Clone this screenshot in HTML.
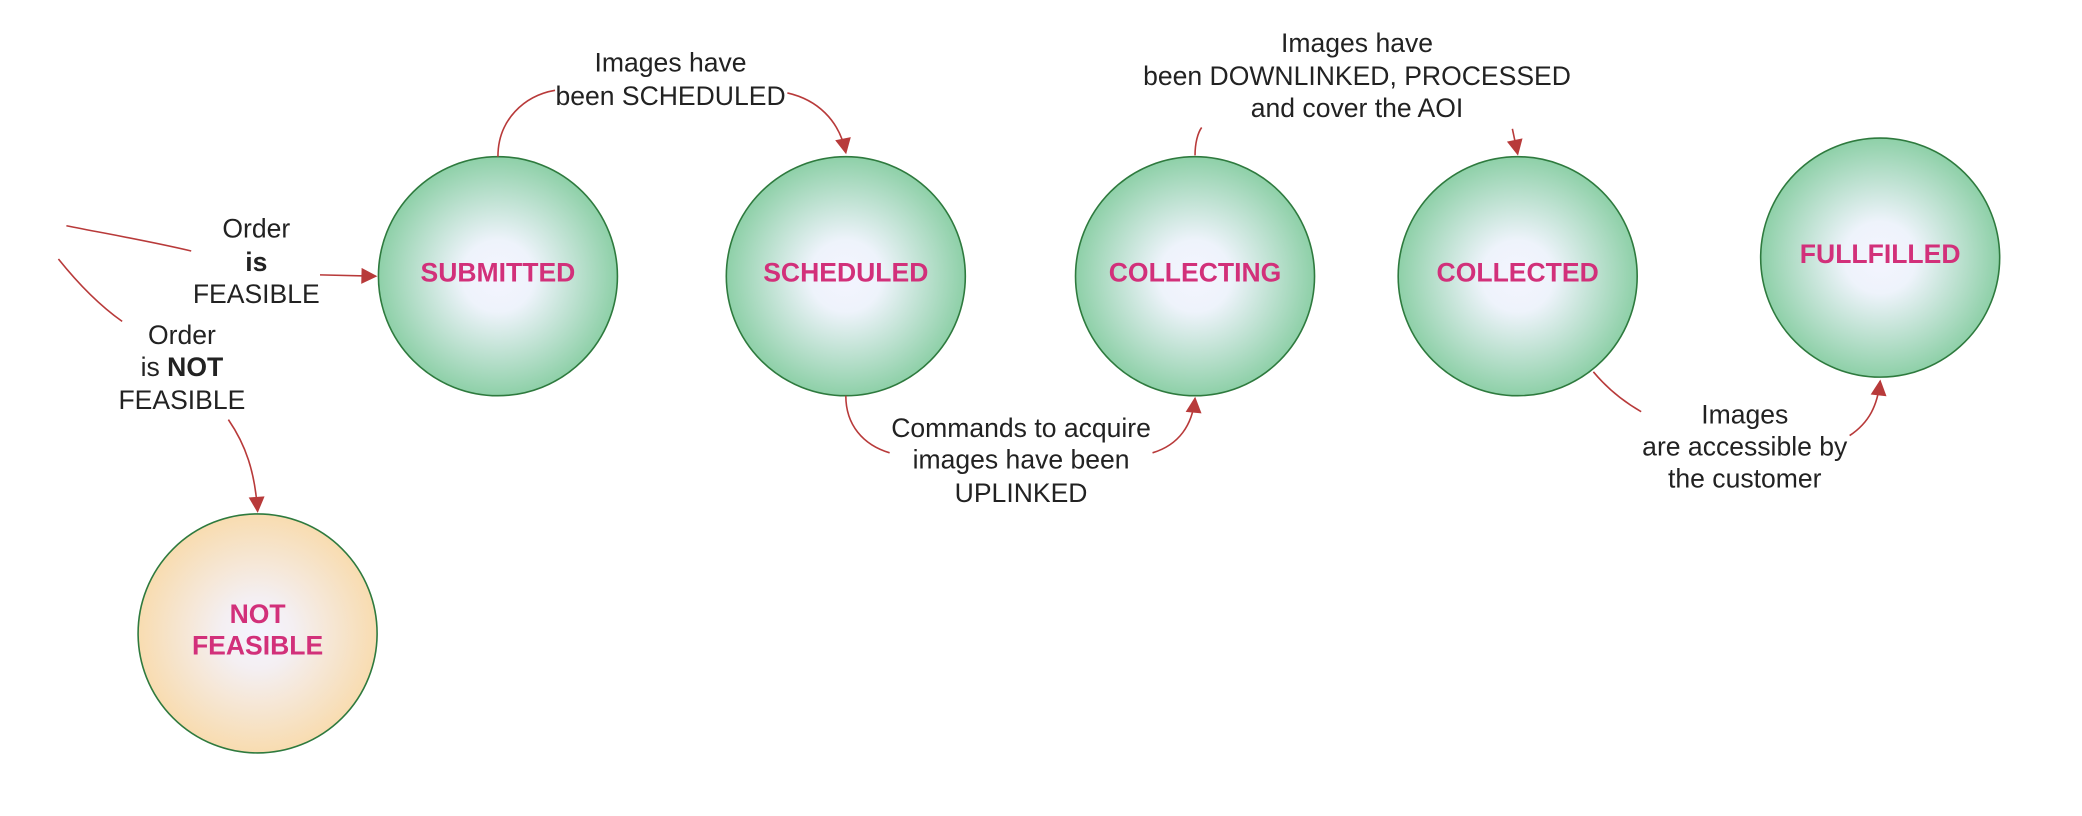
<!DOCTYPE html>
<html><head><meta charset="utf-8"><style>html,body{margin:0;padding:0;background:#fff}svg{display:block}</style></head>
<body>
<svg width="2082" height="816" viewBox="0 0 1568 614.5" preserveAspectRatio="none" xmlns="http://www.w3.org/2000/svg" font-family="Liberation Sans, sans-serif">
<defs>
<radialGradient id="g" cx="50%" cy="50%" r="50%"><stop offset="0" stop-color="#f4f4ff"/><stop offset="0.3" stop-color="#eef3fb"/><stop offset="1" stop-color="#8ed0a8"/></radialGradient>
<radialGradient id="o" cx="50%" cy="50%" r="50%"><stop offset="0" stop-color="#f4f4ff"/><stop offset="0.3" stop-color="#f4eff2"/><stop offset="1" stop-color="#f8dcb0"/></radialGradient>
<marker id="a" viewBox="0 0 10 10" refX="9" refY="5" markerWidth="15" markerHeight="12" orient="auto" markerUnits="userSpaceOnUse"><path d="M0,0 L10,5 L0,10 z" fill="#b83a3a"/></marker>
</defs>
<g stroke="#2e7a3e" stroke-width="1.2">
<circle cx="375" cy="208" r="90" fill="url(#g)"/>
<circle cx="637" cy="208" r="90" fill="url(#g)"/>
<circle cx="900" cy="208" r="90" fill="url(#g)"/>
<circle cx="1143" cy="208" r="90" fill="url(#g)"/>
<circle cx="1416" cy="194" r="90" fill="url(#g)"/>
<circle cx="194" cy="477" r="90" fill="url(#o)"/>
</g>
<g fill="none" stroke="#b83a3a" stroke-width="1.2">
<path d="M375,118 C375,90 395,72 418,68"/>
<path d="M593,70 C615,75 632,90 637,115" marker-end="url(#a)"/>
<path d="M50,170 C80,176 110,181 144,189"/>
<path d="M44,195 C60,215 75,230 92,242"/>
<path d="M241,207 L283,208" marker-end="url(#a)"/>
<path d="M172,316 C185,335 192,355 194,385" marker-end="url(#a)"/>
<path d="M637,298 C637,320 650,335 670,341"/>
<path d="M868,341 C888,335 898,320 900,300" marker-end="url(#a)"/>
<path d="M900,117 C900,108 902,100 905,96"/>
<path d="M1139,97 L1143,116" marker-end="url(#a)"/>
<path d="M1200,280 C1210,292 1222,302 1236,310"/>
<path d="M1393,328 C1408,318 1414,305 1416,287" marker-end="url(#a)"/>
</g>
<g fill="#d2307a" font-weight="bold" font-size="20" text-anchor="middle">
<text x="375" y="212">SUBMITTED</text>
<text x="637" y="212">SCHEDULED</text>
<text x="900" y="212">COLLECTING</text>
<text x="1143" y="212">COLLECTED</text>
<text x="1416" y="198">FULLFILLED</text>
<text x="194" y="469">NOT</text>
<text x="194" y="493">FEASIBLE</text>
</g>
<g fill="#222" font-size="20" text-anchor="middle">
<text x="505" y="54">Images have</text>
<text x="505" y="79">been SCHEDULED</text>
<text x="1022" y="39">Images have</text>
<text x="1022" y="64">been DOWNLINKED, PROCESSED</text>
<text x="1022" y="88">and cover the AOI</text>
<text x="193" y="179">Order</text>
<text x="193" y="204" font-weight="bold">is</text>
<text x="193" y="228">FEASIBLE</text>
<text x="137" y="259">Order</text>
<text x="137" y="283">is  <tspan font-weight="bold">NOT</tspan></text>
<text x="137" y="308">FEASIBLE</text>
<text x="769" y="329">Commands to acquire</text>
<text x="769" y="353">images have been</text>
<text x="769" y="378">UPLINKED</text>
<text x="1314" y="319">Images</text>
<text x="1314" y="343">are accessible by</text>
<text x="1314" y="367">the customer</text>
</g>
</svg>
</body></html>
